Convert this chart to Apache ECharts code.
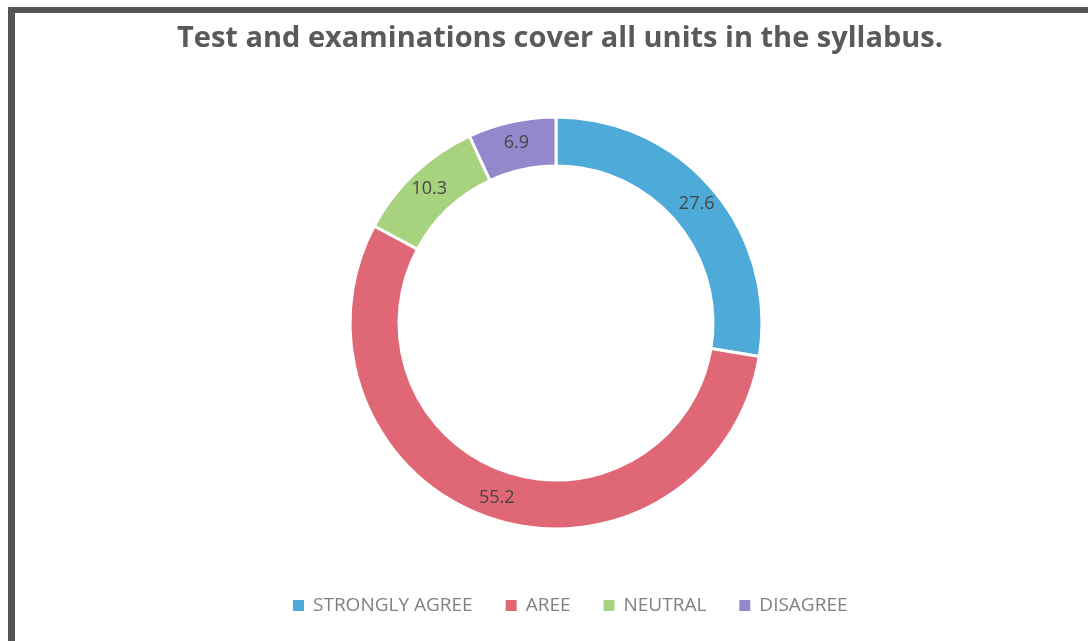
<!DOCTYPE html>
<html>
<head>
<meta charset="utf-8">
<script src="https://cdn.jsdelivr.net/npm/echarts@6/dist/echarts.min.js"></script>
<style>
html,body{margin:0;padding:0;background:#fff;}
#frame{position:absolute;left:8px;top:7px;width:1100px;height:660px;border-left:7px solid #555;border-top:6px solid #555;box-sizing:border-box;}
#chart{position:absolute;left:0;top:0;width:1088px;height:641px;}
</style>
</head>
<body>
<div id="frame"></div>
<div id="chart"></div>
<script>
const titleText = "Test and examinations cover all units in the syllabus.";
const categories = ["STRONGLY AGREE", "AREE", "NEUTRAL", "DISAGREE"];
const values = [27.6, 55.2, 10.3, 6.9];
const colors = ["#4EAAD8", "#E06775", "#A7D27E", "#9288CB"];

const chart = echarts.init(document.getElementById('chart'), null, {renderer: 'canvas'});
chart.setOption({
  backgroundColor: 'transparent',
  animation: false,
  color: colors,
  title: {
    text: titleText,
    left: 555,
    textAlign: 'center',
    top: 19,
    textStyle: {
      fontFamily: 'Open Sans',
      fontWeight: 'bold',
      fontSize: 29,
      color: '#5a5a5a'
    }
  },
  legend: {
    bottom: 21,
    left: 286,
    itemWidth: 13,
    itemHeight: 13,
    itemGap: 31,
    icon: 'rect',
    textStyle: {
      fontFamily: 'Open Sans',
      fontSize: 19,
      color: '#808080',
      padding: [0, 0, 0, 3]
    },
    data: categories
  },
  series: [{
    type: 'pie',
    center: [556, 323],
    radius: [157, 206],
    startAngle: 90,
    clockwise: true,
    itemStyle: { borderColor: '#fff', borderWidth: 3 },
    label: {
      show: true,
      position: 'inside',
      formatter: '{c}',
      fontFamily: 'Open Sans',
      fontSize: 18,
      color: '#454545'
    },
    labelLine: { show: false },
    data: categories.map((c, i) => ({ name: c, value: values[i] }))
  }]
});
</script>
</body>
</html>
